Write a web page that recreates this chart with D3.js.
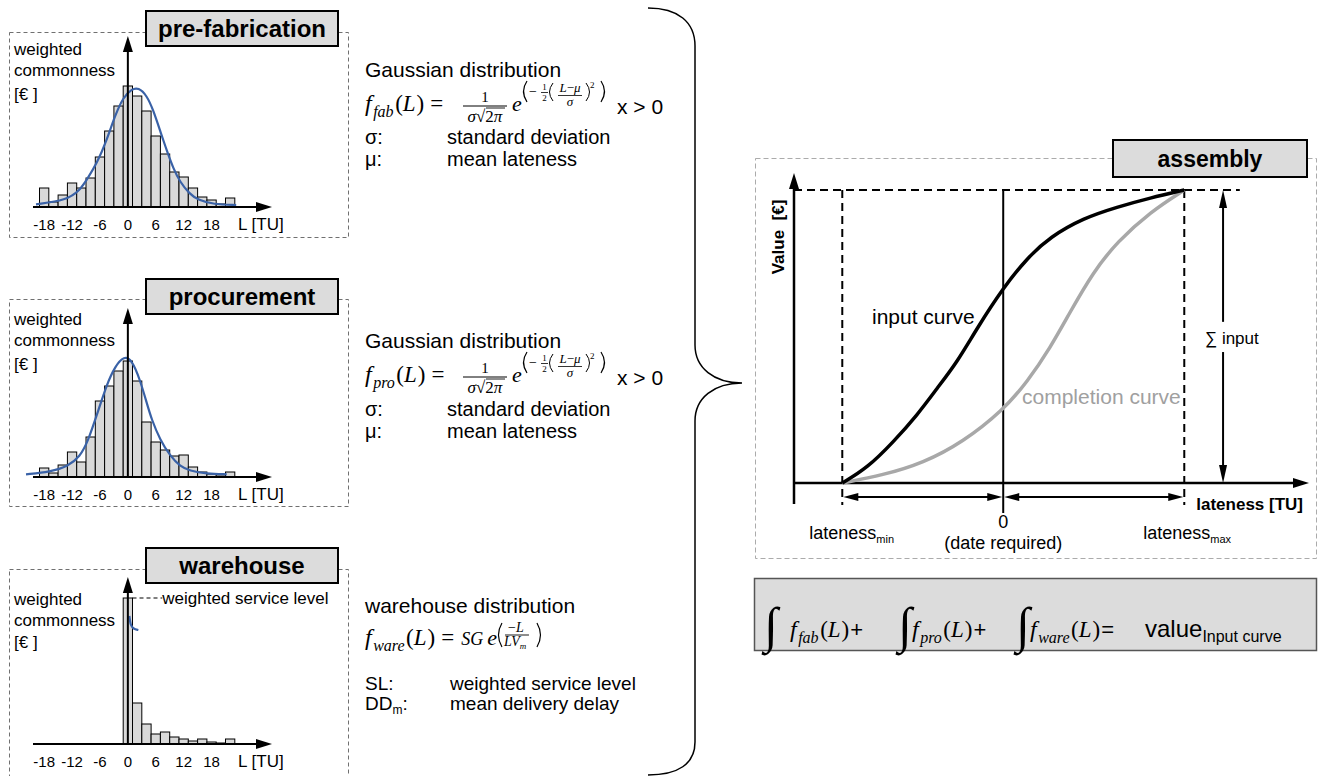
<!DOCTYPE html>
<html>
<head>
<meta charset="utf-8">
<script src="https://cdn.jsdelivr.net/npm/d3@7"></script>
<style>
body { margin: 0; background: #fff; }
svg { display: block; }
text { font-family: "Liberation Sans", Arial, sans-serif; fill: #000; }
.mi { font-family: "Liberation Serif", "DejaVu Serif", serif; font-style: italic; }
.mu { font-family: "Liberation Serif", "DejaVu Serif", serif; }
.b { font-weight: bold; }
</style>
</head>
<body>
<div id="chart"></div>
<script>
// histogram bins, 2 TU wide, given by their centre
var binCenters = [-18, -16, -14, -12, -10, -8, -6, -4, -2, 0, 2, 4, 6, 8, 10, 12, 14, 16, 18, 20, 22];
var fabCounts = [1.9, 0.5, 1.2, 2.4, 1.9, 2.9, 5.0, 7.6, 10.1, 12.1, 11.1, 9.6, 7.1, 5.3, 3.5, 3.0, 1.9, 1.0, 0.7, 0.3, 0.9];
var proCounts = [0.9, 0.4, 1.2, 2.5, 1.5, 4.0, 7.6, 9.1, 10.6, 11.6, 9.6, 5.5, 3.5, 2.7, 2.1, 2.2, 1.0, 0.5, 0.3, 0.1, 0.5];
var wareCenters = [0, 2, 4, 6, 8, 10, 12, 14, 16, 18, 20, 22];
var wareCounts = [14.6, 4.1, 2.0, 1.0, 1.2, 0.7, 0.5, 0.3, 0.5, 0.2, 0.1, 0.5];
var tickLabels = [-18, -12, -6, 0, 6, 12, 18];

// fitted curves as [L, value]
var fabFit = [[-19.75, 0.27], [-13.2, 0.67], [-10.3, 1.67], [-8.7, 2.83], [-6.7, 4.33], [-4.55, 6.67], [-2.75, 9.17],
  [-0.96, 11.0], [0.83, 11.8], [2.26, 11.95], [4.06, 11.17], [5.49, 9.67], [7.14, 7.33], [8.36, 5.67], [9.79, 3.83],
  [11.23, 2.5], [13.23, 1.33], [15.17, 0.67], [18.4, 0.27], [23.3, 0.2]];
var proFit = [[-21.9, 0.27], [-16.7, 0.5], [-12.8, 1.07], [-10.3, 2.07], [-8.7, 3.4], [-6.3, 6.73], [-4.55, 9.23],
  [-2.75, 11.07], [-0.8, 12.1], [0.83, 11.73], [2.62, 9.73], [4.06, 7.4], [5.13, 5.73], [6.92, 3.73], [9.15, 2.07],
  [11.23, 1.07], [13.23, 0.63], [16.97, 0.33], [21.27, 0.27]];
var wareFit = [[0.32, 12.8], [0.5, 12.2], [0.62, 11.9], [1.18, 11.5], [2.26, 11.4]];

// assembly: cumulative value curves [lateness, value %]
var latenessMin = -10, latenessMax = 11.25;
var inputCurve = [[-10, 0], [-8.45, 5.1], [-6.83, 14.0], [-5.34, 23.2], [-4.1, 32.4], [-2.86, 41.3], [-1.62, 52.9],
  [0, 66.6], [1.49, 76.8], [2.92, 84.0], [4.97, 90.4], [7.08, 94.2], [9.13, 97.3], [11.25, 100]];
var completionCurve = [[-10, 0], [-7.47, 2.7], [-4.98, 6.8], [-2.5, 14.0], [0, 24.9], [1.49, 34.5], [2.92, 46.1],
  [4.16, 58.4], [5.59, 72.0], [7.08, 82.3], [9.13, 92.5], [11.25, 100]];

var blue = "#3a62a7";

var svg = d3.select("#chart").append("svg")
  .attr("width", 1319)
  .attr("height", 776);

function t(parent, x, y, s, size, cls, anchor)
{
  return parent.append("text")
    .attr("x", x).attr("y", y)
    .attr("class", cls || null)
    .attr("font-size", size)
    .attr("text-anchor", anchor || "start")
    .style("white-space", "pre")
    .text(s);
}

// parts: [[string, class, fontSize, dy]]
function mix(parent, x, y, parts, size, anchor)
{
  var el = parent.append("text")
    .attr("x", x).attr("y", y)
    .attr("font-size", size)
    .attr("text-anchor", anchor || "start")
    .style("white-space", "pre");
  parts.forEach(function(p)
  {
    var ts = el.append("tspan").text(p[0]);
    if(p[1]) ts.attr("class", p[1]);
    if(p[2]) ts.attr("font-size", p[2]);
    if(p[3]) ts.attr("dy", p[3]);
  });
  return el;
}

// lay pieces out one after another: [string, class, size, dy, gapAfter]
function seq(parent, x, y, items)
{
  var cx = x;
  items.forEach(function(it)
  {
    var el = t(parent, cx, y + (it[3] || 0), it[0], it[2], it[1]);
    cx += el.node().getComputedTextLength() + (it[4] || 0);
  });
  return cx;
}

function head(g, x, y, dir, len, half)
{
  var p;
  if(dir == "up") p = [[x, y], [x - half, y + len], [x + half, y + len]];
  if(dir == "down") p = [[x, y], [x - half, y - len], [x + half, y - len]];
  if(dir == "right") p = [[x, y], [x - len, y - half], [x - len, y + half]];
  if(dir == "left") p = [[x, y], [x + len, y - half], [x + len, y + half]];
  g.append("path").attr("d", "M" + p.join("L") + "Z").attr("fill", "#000");
}

function hline(g, x1, x2, y, w, dash, col)
{
  return g.append("line").attr("x1", x1).attr("x2", x2).attr("y1", y).attr("y2", y)
    .attr("stroke", col || "#000").attr("stroke-width", w).attr("stroke-dasharray", dash || null);
}

function vline(g, x, y1, y2, w, dash, col)
{
  return g.append("line").attr("x1", x).attr("x2", x).attr("y1", y1).attr("y2", y2)
    .attr("stroke", col || "#000").attr("stroke-width", w).attr("stroke-dasharray", dash || null);
}

// stretched bracket drawn as a path
function paren(g, x, y1, y2, open, w)
{
  var bulge = open ? -3.5 : 3.5, ym = (y1 + y2) / 2;
  g.append("path")
    .attr("d", "M" + x + "," + y1 + " Q" + (x + bulge * 2) + "," + ym + " " + x + "," + y2)
    .attr("fill", "none").attr("stroke", "#000").attr("stroke-width", w || 1.1);
}

function titleBox(g, x, y, w, h, s, size)
{
  g.append("rect").attr("x", x).attr("y", y).attr("width", w).attr("height", h)
    .attr("fill", "#dcdcdc").attr("stroke", "#000").attr("stroke-width", 2);
  t(g, x + w / 2, y + h / 2 + size * 0.36, s, size, "b", "middle");
}

// ---------- left column: histograms ----------
var panels = [
  {title: "pre-fabrication", top: 32, bottom: 237, titleY: 11, axisY: 207, tipY: 36, labelY: [55, 76, 100],
    centers: binCenters, counts: fabCounts, fit: fabFit},
  {title: "procurement", top: 299, bottom: 506, titleY: 279, axisY: 477, tipY: 308, labelY: [325, 346, 370],
    centers: binCenters, counts: proCounts, fit: proFit},
  {title: "warehouse", top: 569, bottom: 800, titleY: 548, axisY: 744, tipY: 577, labelY: [605, 626, 648],
    centers: wareCenters, counts: wareCounts, fit: wareFit}
];

function drawHist(p)
{
  var g = svg.append("g");
  var x = d3.scaleLinear().domain([-20.4, 31]).range([33, 272]);
  var y = d3.scaleLinear().domain([0, 10]).range([p.axisY, p.axisY - 100]);

  g.append("rect")
    .attr("x", 9.5).attr("y", p.top + 0.5)
    .attr("width", 339).attr("height", p.bottom - p.top)
    .attr("fill", "none").attr("stroke", "#707070").attr("stroke-dasharray", "4,3");

  var bins = p.centers.map(function(c, i) { return {c: c, v: p.counts[i]}; });
  g.selectAll(".bar").data(bins).join("rect")
    .attr("class", "bar")
    .attr("x", function(d) { return x(d.c - 1); })
    .attr("width", function(d) { return x(d.c + 1) - x(d.c - 1); })
    .attr("y", function(d) { return y(d.v); })
    .attr("height", function(d) { return y(0) - y(d.v); })
    .attr("fill", "#d9d9d9").attr("stroke", "#000").attr("stroke-width", 1);

  var line = d3.line()
    .x(function(d) { return x(d[0]); })
    .y(function(d) { return y(d[1]); })
    .curve(d3.curveBasis);
  g.append("path").datum(p.fit).attr("d", line)
    .attr("fill", "none").attr("stroke", blue).attr("stroke-width", 2.2);

  // axes with arrows
  hline(g, x(-20.4), 258, p.axisY, 2);
  head(g, 272, p.axisY, "right", 16, 5);
  vline(g, x(0), p.axisY, p.tipY + 14, 2);
  head(g, x(0), p.tipY, "up", 16, 5);

  tickLabels.forEach(function(v)
  {
    t(g, x(v), p.axisY + 23, String(v), 15, null, "middle");
  });
  t(g, 238, p.axisY + 23, "L [TU]", 17);

  t(g, 14, p.labelY[0], "weighted", 17);
  t(g, 14, p.labelY[1], "commonness", 17);
  t(g, 14, p.labelY[2], "[€ ]", 17);

  titleBox(g, 146, p.titleY, 192, 35, p.title, 24);

  return {g: g, x: x, y: y};
}

var hists = panels.map(drawHist);

// warehouse: service level leader
var wh = hists[2];
hline(wh.g, wh.x(1), wh.x(7.4), wh.y(wareCounts[0]), 1.2, "4,3");
t(wh.g, wh.x(7.4), wh.y(wareCounts[0]) + 6, "weighted service level", 17);

// ---------- middle column: formulas ----------
var mid = svg.append("g");

function fOfL(g, x, y, sub, big)
{
  var s = big || 24;
  return seq(g, x, y, [["f", "mi", s, 0, 1.5], [sub, "mi", 16, 6, 1.5], ["(", "mu", s - 1], ["L", "mi", s - 1, 0, 1], [")", "mu", s - 1, 0, 0]]);
}

function gaussFormula(x0, y0, sub)
{
  var f = mid.append("g").attr("transform", "translate(" + x0 + "," + y0 + ")");
  var cx = fOfL(f, 0, 0, sub);
  t(f, cx + 6, 0, "=", 23, "mu");
  t(f, 120, -9, "1", 15, "mu", "middle");
  hline(f, 98, 142, -5, 1);
  mix(f, 120, 11, [["σ", "mi"], ["√", "mu"], ["2", "mu"], ["π", "mi"]], 17, "middle");
  hline(f, 121, 140, -3, 0.9);
  t(f, 147, 0, "e", 22, "mi");
  // exponent
  paren(f, 162, -30, -9, true, 1.2);
  t(f, 164, -15, "−", 14, "mu");
  t(f, 179.5, -21, "1", 9, "mu", "middle");
  hline(f, 176, 183, -18.5, 0.8);
  t(f, 179.5, -10, "2", 9, "mu", "middle");
  paren(f, 188, -28, -10, true, 1);
  mix(f, 205, -19, [["L", "mi"], ["−", "mu"], ["μ", "mi"]], 13, "middle");
  hline(f, 193, 217, -15.5, 0.8);
  t(f, 205, -5, "σ", 13, "mi", "middle");
  paren(f, 221, -28, -10, false, 1);
  t(f, 225, -23, "2", 9, "mu");
  paren(f, 236, -30, -9, false, 1.2);
  t(f, 252, 3, "x > 0", 21);
}

function legendRows(y1, y2)
{
  t(mid, 365, y1, "σ:", 20);
  t(mid, 447, y1, "standard deviation", 20);
  t(mid, 365, y2, "μ:", 20);
  t(mid, 447, y2, "mean lateness", 20);
}

t(mid, 365, 77, "Gaussian distribution", 21);
gaussFormula(365, 111, "fab");
legendRows(144, 166);

t(mid, 365, 348, "Gaussian distribution", 21);
gaussFormula(365, 382, "pro");
legendRows(416, 438);

t(mid, 365, 613, "warehouse distribution", 21);
(function()
{
  var f = mid.append("g").attr("transform", "translate(365,645)");
  var cx = fOfL(f, 0, 0, "ware");
  var ex = seq(f, cx + 6, 0, [["=", "mu", 23, 0, 7], ["SG", "mi", 18, 0, 4], ["e", "mi", 22, 0, 0]]) + 5;
  paren(f, ex, -22, 2, true, 1.2);
  mix(f, ex + 14, -13, [["−", "mu"], ["L", "mi"]], 14, "middle");
  hline(f, ex + 3, ex + 27, -10, 0.9);
  mix(f, ex + 2, 1, [["LV", "mi"], ["m", "mi", 9, 3]], 14);
  paren(f, ex + 35, -22, 2, false, 1.2);
})();
t(mid, 365, 690, "SL:", 19);
t(mid, 450, 690, "weighted service level", 19);
mix(mid, 365, 710, [["DD"], ["m", null, 12, 4], [":", null, null, -4]], 19);
t(mid, 450, 710, "mean delivery delay", 19);

// curly brace joining the three sources
svg.append("path")
  .attr("d", "M648,8 C678,8 695,22 695,46 L695,345 C695,368 714,383 742,383" +
             " C714,383 695,398 695,421 L695,742 C695,764 678,775 648,775")
  .attr("fill", "none").attr("stroke", "#000").attr("stroke-width", 1.5);

// ---------- right column: assembly ----------
var ga = svg.append("g");
var xA = d3.scaleLinear().domain([-13, 19]).range([794, 1309]);
var yA = d3.scaleLinear().domain([0, 100]).range([483, 190]);

ga.append("rect")
  .attr("x", 755.5).attr("y", 158.5).attr("width", 561).attr("height", 400)
  .attr("fill", "none").attr("stroke", "#ababab").attr("stroke-dasharray", "5,3");

// reference lines
hline(ga, xA(-13), xA(14.7), yA(100), 2, "8,5");
ga.selectAll(".ref").data([latenessMin, latenessMax]).join("line")
  .attr("class", "ref")
  .attr("x1", function(d) { return xA(d); }).attr("x2", function(d) { return xA(d); })
  .attr("y1", yA(100)).attr("y2", yA(-7.5))
  .attr("stroke", "#000").attr("stroke-width", 2).attr("stroke-dasharray", "8,5");
vline(ga, xA(0), yA(100), yA(-10.2), 2);

// axes
vline(ga, xA(-13), yA(-7.2), yA(105.8) + 14, 2.5);
head(ga, xA(-13), yA(105.8), "up", 16, 5);
hline(ga, xA(-13), xA(19) - 14, yA(0), 2.5);
head(ga, xA(19), yA(0), "right", 16, 5);

// curves
var lineA = d3.line()
  .x(function(d) { return xA(d[0]); })
  .y(function(d) { return yA(d[1]); })
  .curve(d3.curveBasis);
ga.append("path").datum(completionCurve).attr("d", lineA)
  .attr("fill", "none").attr("stroke", "#a8a8a8").attr("stroke-width", 3.5);
ga.append("path").datum(inputCurve).attr("d", lineA)
  .attr("fill", "none").attr("stroke", "#000").attr("stroke-width", 3.5);

// sum input arrow
var xs = xA(13.66);
vline(ga, xs, yA(100) + 14, yA(55), 2);
vline(ga, xs, yA(44.7), yA(0) - 14, 2);
head(ga, xs, yA(100), "up", 18, 4);
head(ga, xs, yA(0), "down", 18, 4);
t(ga, xs - 18, yA(50) + 7, "∑ input", 17);

// lateness spans
var ySpan = yA(-4.8);
[[latenessMin, 0], [0, latenessMax]].forEach(function(s)
{
  hline(ga, xA(s[0]) + 10, xA(s[1]) - 10, ySpan, 2);
  head(ga, xA(s[0]) + 1, ySpan, "left", 15, 4);
  head(ga, xA(s[1]) - 1, ySpan, "right", 15, 4);
});

// labels
t(ga, 1303, 510, "lateness [TU]", 17, "b", "end");
t(ga, 0, 0, "Value  [€]", 17, "b", "middle")
  .attr("transform", "translate(784,237) rotate(-90)");
t(ga, 872, 324, "input curve", 21);
t(ga, 1022, 404, "completion curve", 21).style("fill", "#a0a0a0");
mix(ga, xA(latenessMin) - 33, 539, [["lateness"], ["min", null, 11, 4]], 18);
mix(ga, xA(latenessMax) - 41, 539, [["lateness"], ["max", null, 11, 4]], 18);
t(ga, xA(0), 528, "0", 18, null, "middle");
t(ga, xA(0), 549, "(date required)", 18, null, "middle");

titleBox(ga, 1113, 140, 194, 37, "assembly", 23);

// ---------- sum formula ----------
var gf = svg.append("g");
gf.append("rect").attr("x", 754.5).attr("y", 578.5).attr("width", 562).attr("height", 72)
  .attr("fill", "#dcdcdc").attr("stroke", "#555").attr("stroke-width", 1.5);

var baseF = 637;
[[764, 790, "fab", "+"], [898, 912, "pro", "+"], [1016, 1030, "ware", "="]].forEach(function(term)
{
  t(gf, term[0], baseF + 5, "∫", 50, "mu");
  var cx = fOfL(gf, term[1], baseF, term[2]);
  t(gf, cx + 1, baseF, term[3], 22);
});
mix(gf, 1145, baseF, [["value"], ["Input curve", null, 16, 5]], 24);
</script>
</body>
</html>
